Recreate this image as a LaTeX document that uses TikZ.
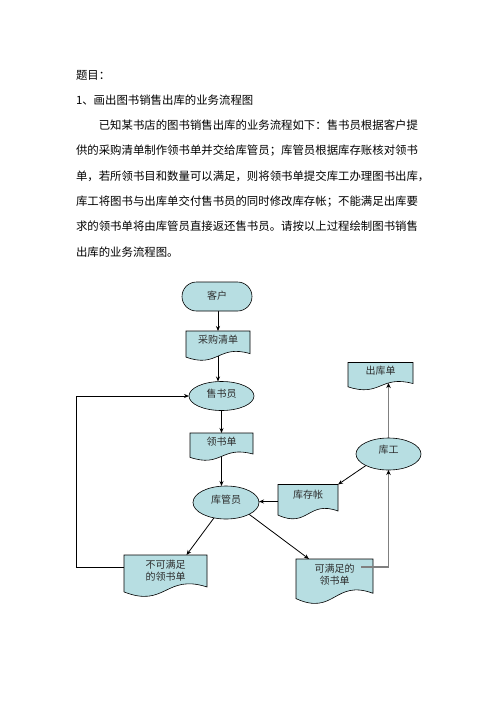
\documentclass[tikz,border=0pt]{standalone}
\usepackage{fontspec}
\newfontfamily\cjk{Noto Sans CJK SC}
\usetikzlibrary{shapes.geometric,arrows.meta,calc}
\pgfdeclarelayer{bg}
\pgfdeclarelayer{docs}
\pgfsetlayers{bg,docs,main}
\definecolor{boxfill}{RGB}{183,222,226}
\definecolor{txtgray}{RGB}{45,45,45}
\definecolor{linegray}{RGB}{128,128,128}
\newcommand\rz[2]{\raisebox{#1}[0pt][0pt]{#2}}
\newcommand\docpath[1]{%
  \path[docline] let \p1=(#1.north west), \p2=(#1.south east), \n1={\x2-\x1}, \n2={\y1-\y2} in
  (\x1,\y1) -- (\x2,\y1) -- (\x2,{\y2+0.22*\n2})
  .. controls ({\x1+0.5*\n1},{\y2+0.55*\n2}) and ({\x1+0.5*\n1},{\y2-0.3*\n2}) ..
  (\x1,{\y2+0.1*\n2}) -- cycle;}
\begin{document}
\begin{tikzpicture}[x=1pt,y=-1pt,
  bodytext/.style={anchor=west,inner sep=0pt,outer sep=0pt,font=\cjk\fontsize{11.4pt}{11.4pt}\selectfont},
  shapebase/.style={draw=black,line width=0.6pt,fill=boxfill,inner sep=0pt,outer sep=0pt,text=txtgray,font=\cjk\fontsize{10pt}{12pt}\selectfont},
  termbox/.style={shapebase,rectangle,rounded corners=14.5pt},
  ellbox/.style={shapebase,ellipse},
  docbox/.style={rectangle,inner sep=0pt,outer sep=0pt,text=txtgray,font=\cjk\fontsize{10pt}{12pt}\selectfont},
  docline/.style={draw=black,line width=0.6pt,fill=boxfill},
  flow/.style={draw=black,line width=0.8pt,-{Stealth[length=5pt,width=4pt]}},
  grayflow/.style={draw=linegray,line width=1.4pt,-{Stealth[length=5pt,width=4.5pt,color=black]}}
]
\useasboundingbox (0,0) rectangle (496,702);

% text
\node[bodytext] (t1) at (76,75) {题目：};
\node[bodytext] (t2) at (76,100) {1、画出图书销售出库的业务流程图};
\node[bodytext] (p1) at (98.8,125) {已知某书店的图书销售出库的业务流程如下：售书员根据客户提};
\node[bodytext] (p2) at (76,150.4) {供的采购清单制作领书单并交给库管员；库管员根据库存账核对领书};
\node[bodytext] (p3) at (76,175.8) {单，若所领书目和数量可以满足，则将领书单提交库工办理图书出库，};
\node[bodytext] (p4) at (76,201.2) {库工将图书与出库单交付售书员的同时修改库存帐；不能满足出库要};
\node[bodytext] (p5) at (76,226.6) {求的领书单将由库管员直接返还售书员。请按以上过程绘制图书销售};
\node[bodytext] (p6) at (76,252) {出库的业务流程图。};

% shapes
\node[termbox,minimum width=70pt,minimum height=29pt] (kehu) at (217,296.5) {\rz{-3pt}{客户}};
\node[docbox,minimum width=64pt,minimum height=29pt] (caigou) at (218,345.5) {\rz{1.7pt}{采购清单}};
\node[ellbox,minimum width=65pt,minimum height=29pt] (shoushu) at (221.5,396) {\rz{-1.1pt}{售书员}};
\node[docbox,minimum width=63pt,minimum height=27pt] (lingshu) at (221.5,446.5) {\rz{0.7pt}{领书单}};
\node[ellbox,minimum width=66pt,minimum height=33pt] (kuguan) at (226,502.5) {\rz{-1.3pt}{库管员}};
\node[docbox,minimum width=60pt,minimum height=34pt] (kucun) at (308,501.5) {\rz{3.2pt}{库存帐}};
\node[ellbox,minimum width=65pt,minimum height=32pt] (kugong) at (388.5,454) {\rz{0.2pt}{库工}};
\node[docbox,minimum width=65pt,minimum height=27pt] (chuku) at (380.5,376) {\rz{1.2pt}{出库单}};
\node[docbox,minimum width=83pt,minimum height=41pt] (bukeman) at (165.5,575.5) {\rz{0.6pt}{\begin{tabular}{@{}c@{}}不可满足\\的领书单\end{tabular}}};
\node[docbox,minimum width=77pt,minimum height=44pt] (keman) at (334.5,581) {\rz{2.1pt}{\begin{tabular}{@{}c@{}}可满足的\\领书单\end{tabular}}};

\begin{pgfonlayer}{docs}
  \docpath{caigou}
  \docpath{lingshu}
  \docpath{kucun}
  \docpath{chuku}
  \docpath{bukeman}
  \docpath{keman}
\end{pgfonlayer}

\coordinate (loopx) at (76,567);
\begin{pgfonlayer}{bg}
  \fill[white] (0,0) rectangle (496,702);
  \draw[flow] (caigou.north |- kehu.south) -- (caigou.north);
  \draw[flow] (caigou.center) -- (caigou.center |- shoushu.north);
  \draw[flow] (shoushu) -- (lingshu);
  \draw[flow] (lingshu.center) -- (lingshu.center |- kuguan.north);
  \draw[flow] (kucun.west) -- (kucun.west -| kuguan.east);
  \draw[flow] (kuguan.232) -- ([xshift=21pt]bukeman.north);
  \draw[flow] (kuguan.-27) -- ([xshift=-25.5pt]keman.north);
  \draw[flow] (kugong.207) -- (kucun.north east);
  \draw[flow] (bukeman.west |- loopx) -- (loopx) |- (shoushu.west);
  \draw[grayflow] (kugong.north) -- ($(kugong.north |- chuku.south)+(0,-6.4)$);
\end{pgfonlayer}
\draw[grayflow] ($(keman.center)+(26.5,-14)$) -| (kugong.south);
\end{tikzpicture}
\end{document}
